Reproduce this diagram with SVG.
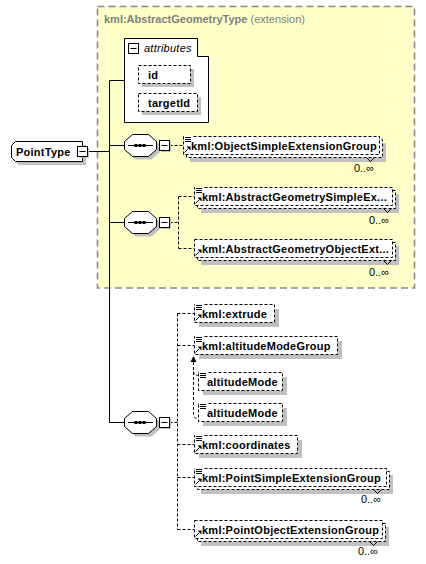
<svg xmlns="http://www.w3.org/2000/svg" width="426" height="564" viewBox="0 0 426 564">
<style>
.sh{fill:#c0c0c0}
.eb{fill:#fff;stroke:#000;stroke-width:1;stroke-dasharray:3,2}
.sb{fill:#fff;stroke:#000;stroke-width:1}
.ln{fill:none;stroke:#000;stroke-width:1}
.dl{fill:none;stroke:#000;stroke-width:1;stroke-dasharray:3,2}
.nm{font-family:"Liberation Sans",Arial,sans-serif;font-size:11px;font-weight:bold;fill:#000;letter-spacing:0.25px}
.oc{font-family:"Liberation Sans",Arial,sans-serif;font-size:11px;fill:#000}
.ti{font-family:"Liberation Sans",Arial,sans-serif;font-size:11px;fill:#808080}
.at{font-family:"Liberation Sans",Arial,sans-serif;font-size:11px;font-style:italic;fill:#000;letter-spacing:0.25px}
</style>
<defs>
<g id="seq">
<path class="sh" d="M135.5,-7.5 H151.5 L159.5,-0.5 V7.5 L151.5,14.5 H135.5 L127.5,7.5 V-0.5 Z"/>
<path class="sb" d="M132.5,-10.5 H148.5 L156.5,-3.5 V4.5 L148.5,11.5 H132.5 L124.5,4.5 V-3.5 Z"/>
<path class="ln" d="M128,0.5 H153"/>
<rect x="134.5" y="-1" width="3" height="3" fill="#000"/>
<rect x="138.5" y="-1" width="3" height="3" fill="#000"/>
<rect x="142.5" y="-1" width="3" height="3" fill="#000"/>
<rect class="sh" x="161" y="-3" width="10" height="10"/>
<rect class="sb" x="159.5" y="-4.5" width="10" height="10"/>
<path class="ln" d="M161.5,0.5 H167.5"/>
</g>
<g id="lines">
<rect x="0" y="-1" width="8" height="7" fill="#fff"/>
<path class="ln" d="M1,0.5 H7 M1,2.5 H7 M1,4.5 H7"/>
</g>
<g id="arrow">
<path class="ln" d="M1.5,-1.5 L5.5,-5.5"/>
<path d="M3.5,-7.5 H7.5 V-3.5 Z" fill="#000"/>
</g>
</defs>

<g id="base">
<rect x="97.5" y="6.5" width="317" height="281.5" fill="#ffffc8" stroke="#888" stroke-width="1.5" stroke-dasharray="7,4"/>
<text class="ti" x="104" y="23"><tspan font-weight="bold">kml:AbstractGeometryType</tspan> (extension)</text>
</g>

<g id="connectors">
<path class="ln" d="M87.5,151.5 H109.5 M109.5,80.5 V422.5 M109.5,80.5 H124.5 M109.5,145.5 H124.5 M109.5,222.5 H124.5 M109.5,422.5 H124.5"/>
<path class="dl" d="M169.5,145.5 H183.5"/>
<path class="dl" d="M169.5,222.5 H178.5 M178.5,196.5 V248.5 M178.5,196.5 H194.5 M178.5,248.5 H194.5"/>
<path class="dl" d="M169.5,422.5 H177.5 M177.5,313.5 V529.5 M177.5,313.5 H194.5 M177.5,345.5 H194.5 M177.5,444.5 H194.5 M177.5,477.5 H194.5 M177.5,529.5 H194.5"/>
<path d="M193.5,356 L190.5,362 H196.5 Z" fill="#000"/>
<path class="dl" d="M193.5,362 V414.5 Q193.5,418.5 198.5,418.5 M193.5,371.5 Q193.5,375.5 198.5,375.5"/>
</g>

<g id="attributes">
<path class="sb" d="M124.5,38.5 H197.5 V56.5 H208.5 V122.5 H124.5 Z"/>
<rect class="sb" x="128.5" y="43.5" width="10" height="10"/>
<path class="ln" d="M130.5,48.5 H136.5"/>
<text class="at" x="144" y="52">attributes</text>
</g>
<g id="attr-id">
<rect class="sh" x="142" y="69" width="52" height="18"/>
<rect class="eb" x="138.5" y="65.5" width="52" height="18"/>
<text class="nm" x="148" y="79">id</text>
</g>
<g id="attr-targetId">
<rect class="sh" x="142" y="97" width="59" height="18"/>
<rect class="eb" x="138.5" y="93.5" width="59" height="18"/>
<text class="nm" x="148" y="107">targetId</text>
</g>

<g id="PointType">
<path class="sh" d="M19,145 H86 V165 H19 L15,161 V149 Z"/>
<path class="sb" d="M15.5,141.5 H82.5 V161.5 H15.5 L11.5,157.5 V145.5 Z"/>
<text class="nm" x="16" y="155.5" letter-spacing="0">PointType</text>
<rect class="sh" x="79" y="148" width="10" height="10"/>
<rect class="sb" x="77.5" y="146.5" width="10" height="10"/>
<path class="ln" d="M79.5,151.5 H85.5"/>
</g>

<g id="seq1"><use href="#seq" y="145"/></g>
<g id="seq2"><use href="#seq" y="222"/></g>
<g id="seq3"><use href="#seq" y="422"/></g>

<g id="ObjectSimpleExtensionGroup">
<rect class="sh" x="190" y="143" width="196" height="19"/>
<rect class="eb" x="186.5" y="139.5" width="196" height="18"/>
<path class="ln" d="M366.5,157.5 L370.5,161.5 L374.5,157.5"/>
<rect class="eb" x="183.5" y="136.5" width="196" height="18"/>
<use href="#lines" x="184" y="137"/>
<use href="#arrow" x="183" y="154"/>
<text class="nm" x="191" y="149.5">kml:ObjectSimpleExtensionGroup</text>
<text class="oc" x="374" y="172" text-anchor="end">0..∞</text>
</g>

<g id="AbstractGeometrySimpleExtensionGroup">
<rect class="sh" x="201" y="194" width="198" height="19"/>
<rect class="eb" x="197.5" y="190.5" width="198" height="18"/>
<path class="ln" d="M383.5,208.5 L387.5,212.5 L391.5,208.5"/>
<rect class="eb" x="194.5" y="187.5" width="198" height="18"/>
<use href="#lines" x="195" y="188"/>
<use href="#arrow" x="194" y="205"/>
<text class="nm" x="202" y="200.5">kml:AbstractGeometrySimpleEx...</text>
<text class="oc" x="389" y="224" text-anchor="end">0..∞</text>
</g>

<g id="AbstractGeometryObjectExtensionGroup">
<rect class="sh" x="201" y="246" width="198" height="19"/>
<rect class="eb" x="197.5" y="242.5" width="198" height="18"/>
<path class="ln" d="M383.5,260.5 L387.5,264.5 L391.5,260.5"/>
<rect class="eb" x="194.5" y="239.5" width="198" height="18"/>
<use href="#arrow" x="194" y="257"/>
<text class="nm" x="202" y="252.5">kml:AbstractGeometryObjectExt...</text>
<text class="oc" x="389" y="276" text-anchor="end">0..∞</text>
</g>

<g id="extrude">
<rect class="sh" x="199" y="309" width="80" height="18"/>
<rect class="eb" x="194.5" y="304.5" width="80" height="18"/>
<use href="#lines" x="195" y="305"/>
<use href="#arrow" x="194" y="322"/>
<text class="nm" x="202" y="317.5">kml:extrude</text>
</g>

<g id="altitudeModeGroup">
<rect class="sh" x="199" y="341" width="143" height="18"/>
<rect class="eb" x="194.5" y="336.5" width="143" height="18"/>
<use href="#lines" x="195" y="337"/>
<use href="#arrow" x="194" y="354"/>
<text class="nm" x="202" y="349.5">kml:altitudeModeGroup</text>
</g>

<g id="altitudeMode1">
<rect class="sh" x="203" y="377" width="84" height="18"/>
<rect class="eb" x="198.5" y="372.5" width="84" height="18"/>
<use href="#lines" x="199" y="373"/>
<text class="nm" x="207" y="385.5">altitudeMode</text>
</g>

<g id="altitudeMode2">
<rect class="sh" x="203" y="408" width="84" height="18"/>
<rect class="eb" x="198.5" y="403.5" width="84" height="18"/>
<use href="#lines" x="199" y="404"/>
<text class="nm" x="207" y="416.5">altitudeMode</text>
</g>

<g id="coordinates">
<rect class="sh" x="199" y="440" width="103" height="18"/>
<rect class="eb" x="194.5" y="435.5" width="103" height="18"/>
<use href="#lines" x="195" y="436"/>
<use href="#arrow" x="194" y="453"/>
<text class="nm" x="202" y="448.5">kml:coordinates</text>
</g>

<g id="PointSimpleExtensionGroup">
<rect class="sh" x="201" y="475" width="192" height="19"/>
<rect class="eb" x="197.5" y="471.5" width="192" height="18"/>
<path class="ln" d="M373.5,489.5 L377.5,493.5 L381.5,489.5"/>
<rect class="eb" x="194.5" y="468.5" width="192" height="18"/>
<use href="#lines" x="195" y="469"/>
<use href="#arrow" x="194" y="486"/>
<text class="nm" x="202" y="481.5">kml:PointSimpleExtensionGroup</text>
<text class="oc" x="381" y="503" text-anchor="end">0..∞</text>
</g>

<g id="PointObjectExtensionGroup">
<rect class="sh" x="201" y="527" width="188" height="19"/>
<rect class="eb" x="197.5" y="523.5" width="188" height="18"/>
<path class="ln" d="M369.5,541.5 L373.5,545.5 L377.5,541.5"/>
<rect class="eb" x="194.5" y="520.5" width="188" height="18"/>
<use href="#arrow" x="194" y="538"/>
<text class="nm" x="202" y="533.5">kml:PointObjectExtensionGroup</text>
<text class="oc" x="378" y="555" text-anchor="end">0..∞</text>
</g>
</svg>
